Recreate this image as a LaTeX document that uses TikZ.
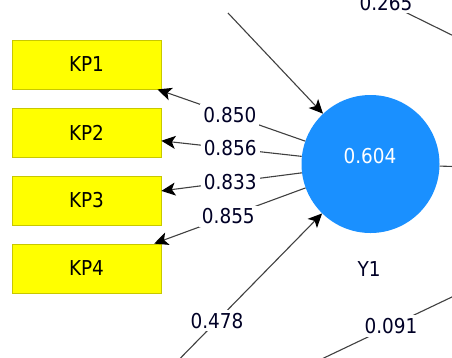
\documentclass[tikz,border=0pt]{standalone}
\usepackage{fontspec}
\setmainfont{DejaVu Sans Condensed}
\usetikzlibrary{arrows.meta}

\definecolor{indfill}{HTML}{FFFF00}
\definecolor{inddraw}{HTML}{C8C800}
\definecolor{latfill}{HTML}{1A90FF}
\definecolor{pathgray}{HTML}{404040}

\tikzset{
  indicator/.style={rectangle, draw=inddraw, fill=indfill, line width=0.8pt,
    minimum width=149pt, minimum height=49pt, inner sep=0pt,
    font=\fontsize{20.5}{22}\selectfont, text=black},
  latent/.style={circle, fill=latfill, minimum size=138pt, inner sep=0pt},
  coef/.style={fill=white, inner sep=3pt, font=\fontsize{20.5}{22}\selectfont,
    text=black!85!blue},
  plain/.style={font=\fontsize{20.5}{22}\selectfont, inner sep=0pt},
  conn/.style={draw=pathgray, line width=1.1pt},
  arr/.style={conn, -{Stealth[length=14pt, width=13pt, inset=3.5pt, color=black, fill=black]}},
}

\begin{document}
\begin{tikzpicture}[x=1pt, y=-1pt]
  \useasboundingbox (0,0) rectangle (452,357);
  \clip (0,0) rectangle (452,357);

  % indicator boxes
  \node[indicator] (KP1) at (86.5,64.5)  {KP1};
  \node[indicator] (KP2) at (86.5,132.5) {KP2};
  \node[indicator] (KP3) at (86.5,200.5) {KP3};
  \node[indicator] (KP4) at (86.5,268.5) {KP4};

  % latent variable
  \node[latent] (Y1) at (370.5,164) {};
  \node[plain, text=white] (Y1r2) at (370,156) {0.604};
  \node[plain, text=black!85!blue] (Y1name) at (369,269) {Y1};

  % free ends of paths leaving the visible area
  \coordinate (inTop) at (228,13);
  \coordinate (inLow) at (112,428);
  \coordinate (outRight) at (470,167);
  \coordinate (aTR) at (330,-25);
  \coordinate (bTR) at (470,44);
  \coordinate (aBR) at (265,386);
  \coordinate (bBR) at (517,266);

  % outer loadings
  \draw[arr] (Y1) -- node[coef, pos=0.51] (l1) {0.850} (KP1);
  \draw[arr] (Y1) -- node[coef, pos=0.51] (l2) {0.856} (KP2);
  \draw[arr] (Y1) -- node[coef, pos=0.51] (l3) {0.833} (KP3);
  \draw[arr] (Y1) -- node[coef, pos=0.51] (l4) {0.855} (KP4);

  % structural paths
  \draw[arr] (inTop) -- (Y1);
  \draw[arr] (inLow) -- node[coef, pos=0.5] (l5) {0.478} (Y1);
  \draw[conn] (Y1) -- (outRight);
  \draw[conn] (aTR) -- node[coef, pos=0.4] (l6) {0.265} (bTR);
  \draw[conn] (aBR) -- node[coef, pos=0.5] (l7) {0.091} (bBR);
\end{tikzpicture}
\end{document}
